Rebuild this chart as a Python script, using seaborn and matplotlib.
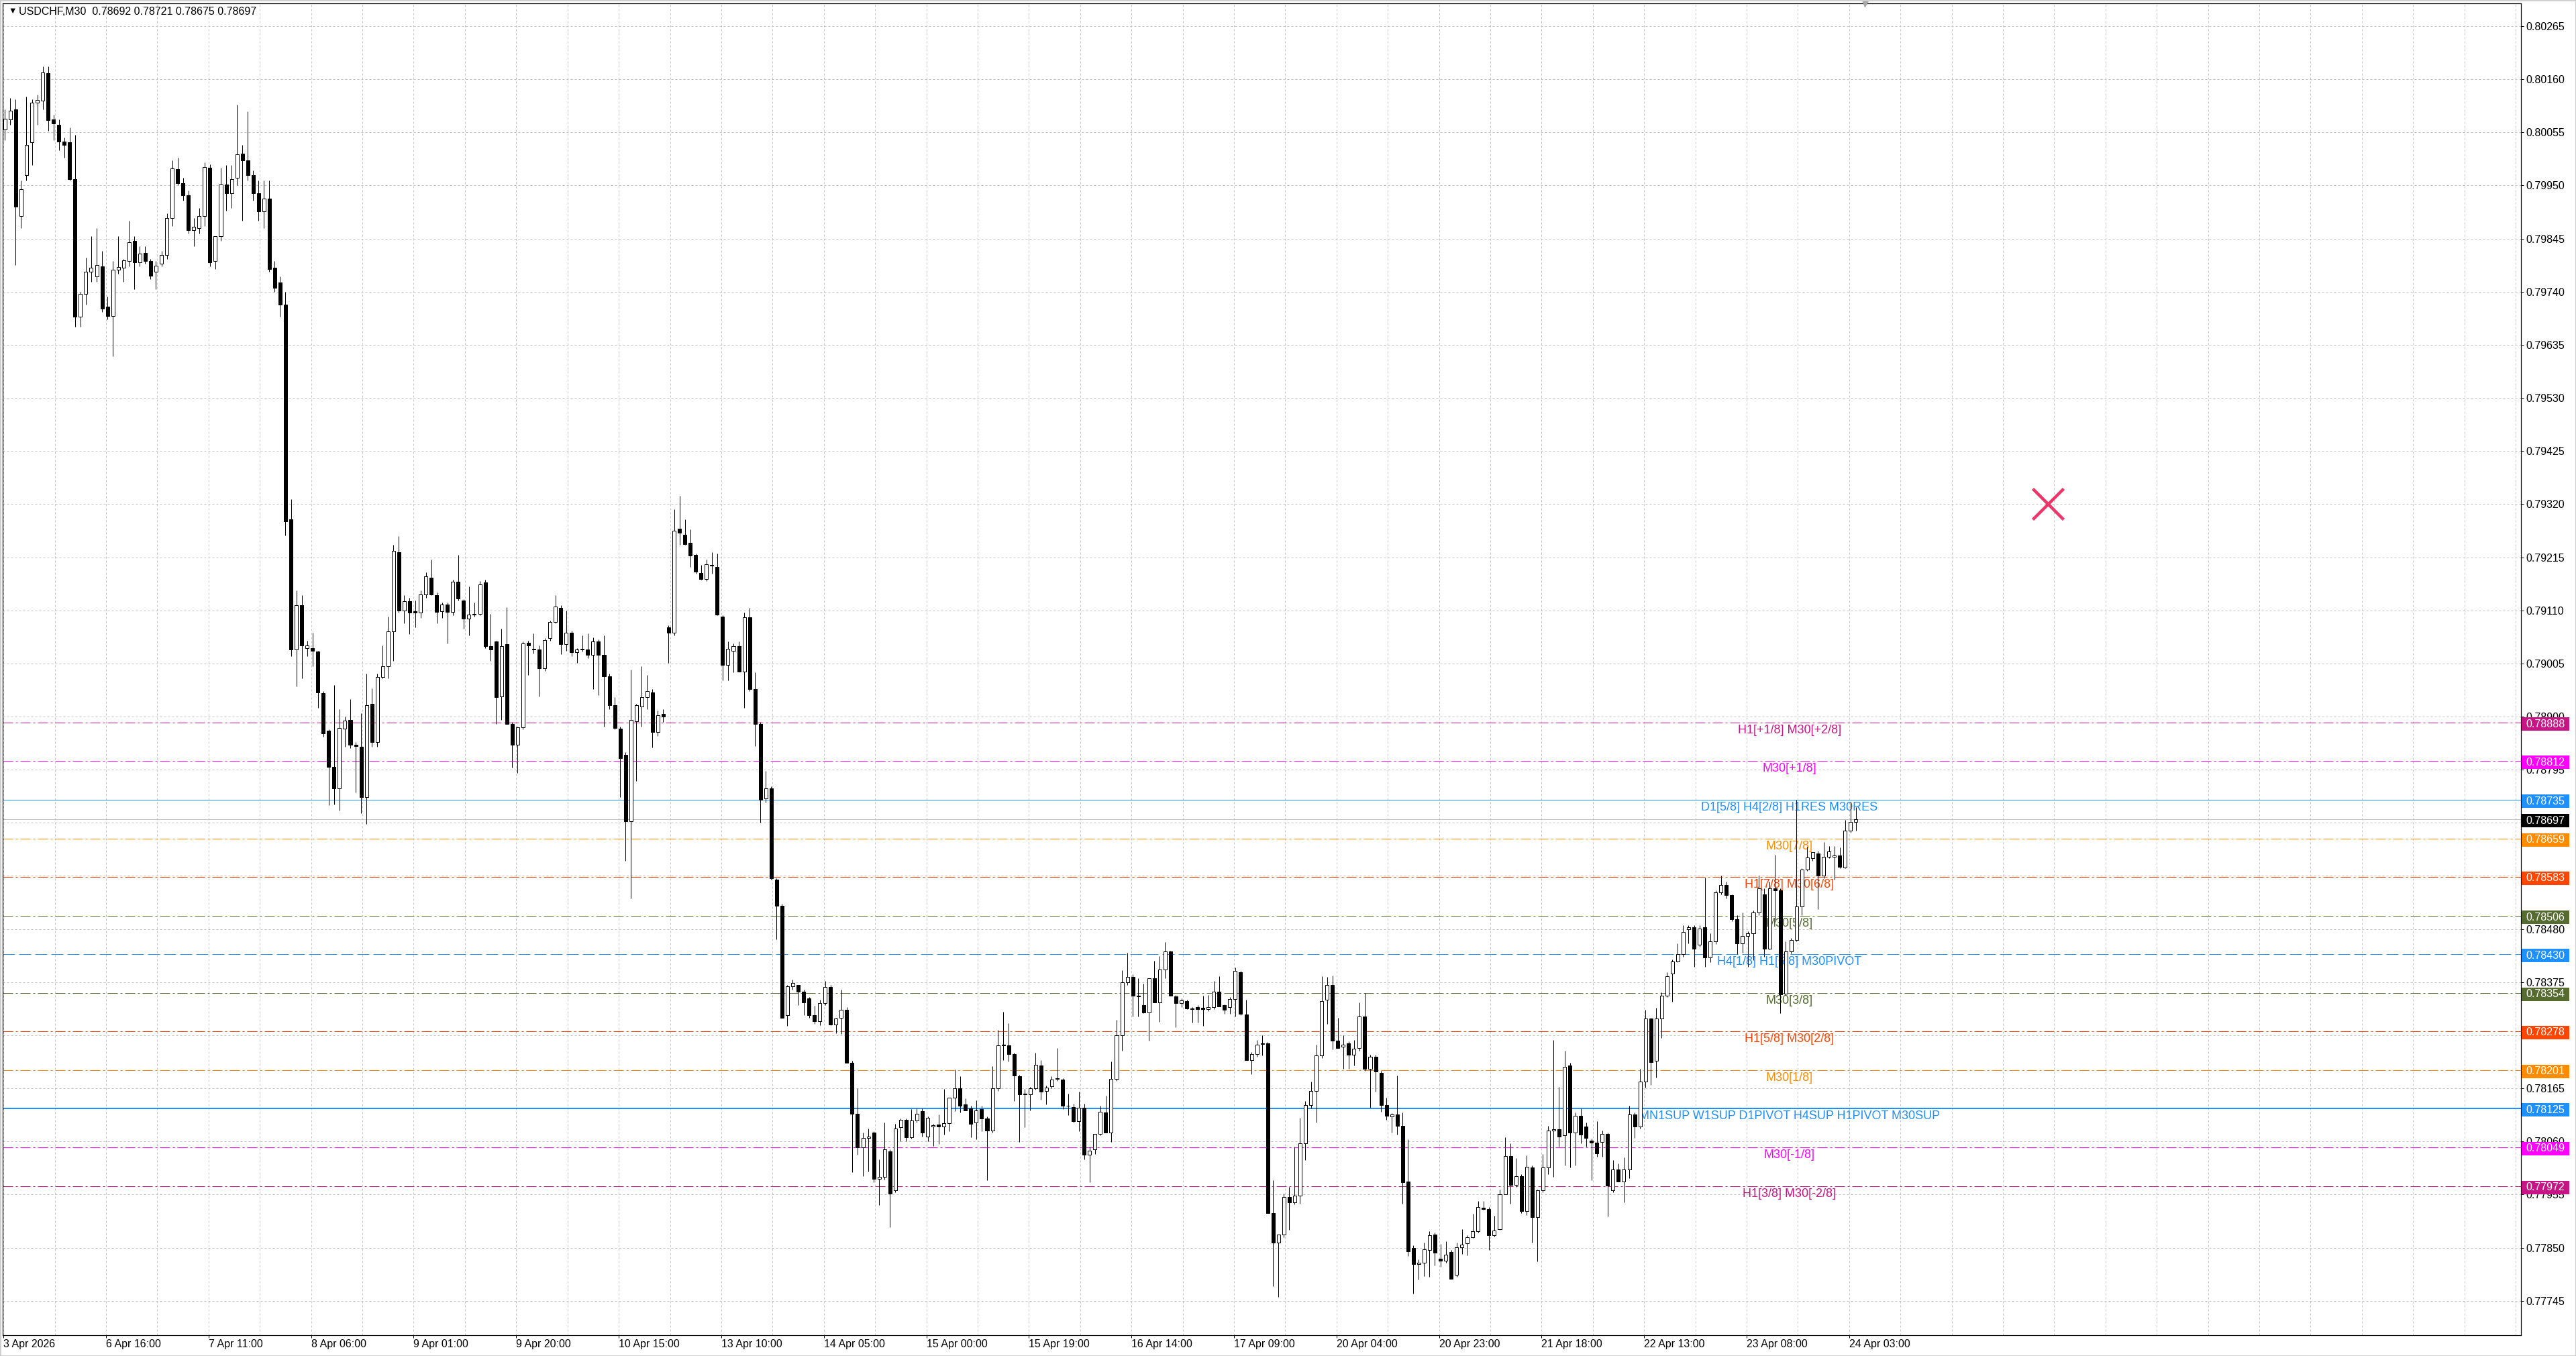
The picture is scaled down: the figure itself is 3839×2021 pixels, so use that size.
import numpy as np
import pandas as pd
import seaborn as sns
import matplotlib.pyplot as plt
import matplotlib.transforms as mtransforms
from matplotlib.patches import Rectangle

# USDCHF M30 chart, read off the screenshot and grouped into 1-hour candles
# (two M30 bars each), starting 3 Apr 21:00; the last entry is the live M30 bar.
candle_open = [
    0.80060, 0.80080, 0.80100, 0.79890, 0.79970, 0.80035, 0.80114, 0.80118, 0.80172, 0.80080,
    0.80070, 0.80037, 0.80035, 0.79963, 0.79690, 0.79736, 0.79780, 0.79770, 0.79790, 0.79710,
    0.79692, 0.79783, 0.79788, 0.79800, 0.79840, 0.79798, 0.79817, 0.79800, 0.79780, 0.79795,
    0.79812, 0.79885, 0.79982, 0.79955, 0.79930, 0.79861, 0.79866, 0.79890, 0.79985, 0.79800,
    0.79850, 0.79952, 0.79935, 0.79965, 0.80013, 0.80000, 0.79970, 0.79934, 0.79899, 0.79924,
    0.79787, 0.79758, 0.79714, 0.79290, 0.79033, 0.79120, 0.79035, 0.79035, 0.79028, 0.78947,
    0.78872, 0.78800, 0.78758, 0.78876, 0.78893, 0.78844, 0.78840, 0.78741, 0.78925, 0.78849,
    0.78978, 0.79000, 0.79068, 0.79225, 0.79110, 0.79128, 0.79108, 0.79106, 0.79142, 0.79175,
    0.79140, 0.79108, 0.79122, 0.79107, 0.79167, 0.79130, 0.79093, 0.79101, 0.79103, 0.79165,
    0.79039, 0.79048, 0.78940, 0.79043, 0.78886, 0.78844, 0.78879, 0.79046, 0.79034, 0.79033,
    0.78996, 0.79055, 0.79087, 0.79115, 0.79043, 0.79066, 0.79027, 0.79033, 0.79033, 0.79022,
    0.79049, 0.79022, 0.78980, 0.78922, 0.78876, 0.78825, 0.78693, 0.78891, 0.78920, 0.78939,
    0.78948, 0.78869, 0.78905, 0.79077, 0.79066, 0.79272, 0.79260, 0.79244, 0.79220, 0.79184,
    0.79172, 0.79200, 0.79196, 0.79098, 0.79002, 0.79030, 0.79039, 0.78989, 0.79096, 0.78955,
    0.78886, 0.78738, 0.78758, 0.78577, 0.78526, 0.78310, 0.78367, 0.78370, 0.78356, 0.78343,
    0.78310, 0.78298, 0.78334, 0.78365, 0.78291, 0.78305, 0.78320, 0.78215, 0.78115, 0.78048,
    0.78067, 0.78077, 0.77986, 0.77990, 0.78040, 0.77963, 0.78088, 0.78103, 0.78068, 0.78101,
    0.78120, 0.78070, 0.78090, 0.78093, 0.78089, 0.78096, 0.78146, 0.78165, 0.78133, 0.78126,
    0.78097, 0.78124, 0.78106, 0.78081, 0.78165, 0.78250, 0.78250, 0.78233, 0.78189, 0.78153,
    0.78153, 0.78165, 0.78210, 0.78160, 0.78169, 0.78185, 0.78182, 0.78130, 0.78128, 0.78100,
    0.78127, 0.78034, 0.78044, 0.78075, 0.78117, 0.78077, 0.78184, 0.78270, 0.78375, 0.78385,
    0.78348, 0.78330, 0.78315, 0.78383, 0.78335, 0.78400, 0.78436, 0.78347, 0.78333, 0.78338,
    0.78323, 0.78326, 0.78324, 0.78321, 0.78326, 0.78356, 0.78329, 0.78326, 0.78341, 0.78395,
    0.78311, 0.78221, 0.78233, 0.78253, 0.78254, 0.77919, 0.77860, 0.77876, 0.77950, 0.77939,
    0.77953, 0.78056, 0.78132, 0.78160, 0.78230, 0.78340, 0.78370, 0.78259, 0.78247, 0.78254,
    0.78231, 0.78245, 0.78307, 0.78203, 0.78227, 0.78196, 0.78132, 0.78110, 0.78114, 0.78091,
    0.77981, 0.77849, 0.77818, 0.77820, 0.77846, 0.77876, 0.77828, 0.77824, 0.77841, 0.77796,
    0.77851, 0.77859, 0.77871, 0.77882, 0.77929, 0.77927, 0.77875, 0.77887, 0.77956, 0.78031,
    0.77974, 0.77991, 0.77923, 0.78009, 0.77910, 0.77963, 0.78008, 0.78081, 0.78084, 0.78072,
    0.78210, 0.78078, 0.78111, 0.78090, 0.78062, 0.78058, 0.78059, 0.78075,
    0.77963, 0.78005, 0.77981, 0.78005, 0.78114, 0.78089, 0.78178, 0.78303, 0.78220, 0.78303,
    0.78348, 0.78392, 0.78416, 0.78431, 0.78480, 0.78484, 0.78449, 0.78483, 0.78424,
    0.78455, 0.78552, 0.78567, 0.78547, 0.78499, 0.78452, 0.78466, 0.78472, 0.78512, 0.78549,
    0.78441, 0.78560, 0.78557, 0.78352, 0.78436, 0.78458, 0.78524, 0.78597, 0.78620, 0.78630,
    0.78586, 0.78623, 0.78623, 0.78625, 0.78602, 0.78674, 0.78692,
]
candle_high = [
    0.80100, 0.80123, 0.80120, 0.79960, 0.80125, 0.80120, 0.80130, 0.80185, 0.80185, 0.80090,
    0.80080, 0.80045, 0.80065, 0.80050, 0.79740, 0.79807, 0.79850, 0.79866, 0.79820, 0.79730,
    0.79800, 0.79850, 0.79805, 0.79880, 0.79850, 0.79830, 0.79830, 0.79805, 0.79800, 0.79820,
    0.79895, 0.80000, 0.80005, 0.79965, 0.79940, 0.79885, 0.79905, 0.79995, 0.79992, 0.79850,
    0.79985, 0.79990, 0.79990, 0.80110, 0.80030, 0.80097, 0.79980, 0.79960, 0.79960, 0.79960,
    0.79800, 0.79770, 0.79740, 0.79330, 0.79150, 0.79140, 0.79050, 0.79066, 0.79030, 0.78950,
    0.78875, 0.78962, 0.78915, 0.78900, 0.78935, 0.78850, 0.78906, 0.78985, 0.78956, 0.78985,
    0.79040, 0.79098, 0.79240, 0.79257, 0.79140, 0.79135, 0.79130, 0.79150, 0.79185, 0.79211,
    0.79145, 0.79125, 0.79125, 0.79170, 0.79219, 0.79132, 0.79157, 0.79125, 0.79168, 0.79170,
    0.79103, 0.79050, 0.79074, 0.79116, 0.78890, 0.78880, 0.79048, 0.79050, 0.79064, 0.79040,
    0.79055, 0.79090, 0.79140, 0.79120, 0.79110, 0.79070, 0.79035, 0.79060, 0.79064, 0.79056,
    0.79052, 0.79060, 0.78985, 0.78938, 0.78880, 0.78830, 0.78993, 0.78925, 0.79000, 0.78982,
    0.78955, 0.78912, 0.78915, 0.79080, 0.79310, 0.79336, 0.79290, 0.79270, 0.79222, 0.79200,
    0.79210, 0.79225, 0.79222, 0.79100, 0.79048, 0.79045, 0.79048, 0.79106, 0.79115, 0.78987,
    0.78890, 0.78793, 0.78762, 0.78580, 0.78530, 0.78370, 0.78380, 0.78370, 0.78360, 0.78345,
    0.78328, 0.78340, 0.78377, 0.78370, 0.78305, 0.78360, 0.78325, 0.78220, 0.78165, 0.78078,
    0.78085, 0.78080, 0.78025, 0.78098, 0.78045, 0.78095, 0.78105, 0.78105, 0.78124, 0.78126,
    0.78125, 0.78110, 0.78095, 0.78113, 0.78164, 0.78146, 0.78202, 0.78189, 0.78145, 0.78130,
    0.78141, 0.78130, 0.78110, 0.78209, 0.78281, 0.78316, 0.78294, 0.78236, 0.78192, 0.78164,
    0.78168, 0.78235, 0.78221, 0.78170, 0.78189, 0.78245, 0.78185, 0.78155, 0.78134, 0.78159,
    0.78135, 0.78050, 0.78075, 0.78130, 0.78150, 0.78218, 0.78300, 0.78398, 0.78433, 0.78390,
    0.78383, 0.78372, 0.78383, 0.78417, 0.78427, 0.78454, 0.78437, 0.78350, 0.78343, 0.78340,
    0.78325, 0.78330, 0.78348, 0.78350, 0.78378, 0.78387, 0.78331, 0.78345, 0.78404, 0.78397,
    0.78340, 0.78237, 0.78261, 0.78270, 0.78256, 0.77984, 0.77876, 0.77957, 0.77970, 0.78050,
    0.78107, 0.78140, 0.78178, 0.78252, 0.78386, 0.78385, 0.78388, 0.78304, 0.78270, 0.78258,
    0.78261, 0.78335, 0.78353, 0.78231, 0.78231, 0.78200, 0.78147, 0.78116, 0.78190, 0.78117,
    0.78064, 0.77855, 0.77827, 0.77860, 0.77882, 0.77880, 0.77857, 0.77863, 0.77845, 0.77860,
    0.77887, 0.77875, 0.77917, 0.77942, 0.77942, 0.77930, 0.77913, 0.77965, 0.78068, 0.78056,
    0.78027, 0.77995, 0.78032, 0.78012, 0.77965, 0.78035, 0.78091, 0.78261, 0.78168, 0.78239,
    0.78215, 0.78118, 0.78125, 0.78098, 0.78065, 0.78100, 0.78081, 0.78078,
    0.78023, 0.78017, 0.78029, 0.78130, 0.78118, 0.78204, 0.78320, 0.78305, 0.78324, 0.78355,
    0.78394, 0.78420, 0.78452, 0.78488, 0.78488, 0.78488, 0.78487, 0.78582, 0.78472,
    0.78557, 0.78585, 0.78574, 0.78548, 0.78507, 0.78513, 0.78475, 0.78516, 0.78585, 0.78560,
    0.78574, 0.78627, 0.78560, 0.78455, 0.78462, 0.78735, 0.78600, 0.78642, 0.78632, 0.78635,
    0.78652, 0.78644, 0.78644, 0.78641, 0.78696, 0.78732, 0.78721,
]
candle_low = [
    0.80040, 0.80070, 0.79793, 0.79865, 0.79960, 0.79990, 0.80070, 0.80100, 0.80058, 0.80040,
    0.80020, 0.80005, 0.79960, 0.79670, 0.79670, 0.79715, 0.79760, 0.79760, 0.79700, 0.79685,
    0.79612, 0.79775, 0.79760, 0.79790, 0.79745, 0.79790, 0.79795, 0.79765, 0.79745, 0.79790,
    0.79805, 0.79870, 0.79950, 0.79920, 0.79855, 0.79830, 0.79855, 0.79870, 0.79790, 0.79785,
    0.79840, 0.79900, 0.79905, 0.79950, 0.79880, 0.79960, 0.79920, 0.79880, 0.79865, 0.79780,
    0.79740, 0.79690, 0.79258, 0.79020, 0.78960, 0.78975, 0.79020, 0.79000, 0.78917, 0.78860,
    0.78725, 0.78726, 0.78714, 0.78840, 0.78838, 0.78750, 0.78709, 0.78688, 0.78840, 0.78840,
    0.78975, 0.78975, 0.79010, 0.79105, 0.79085, 0.79063, 0.79077, 0.79095, 0.79135, 0.79140,
    0.79085, 0.79095, 0.79045, 0.79100, 0.79130, 0.79074, 0.79060, 0.79098, 0.79100, 0.79035,
    0.79010, 0.78885, 0.78893, 0.78886, 0.78799, 0.78788, 0.78875, 0.78982, 0.79025, 0.78940,
    0.78990, 0.79050, 0.79085, 0.79024, 0.79030, 0.79020, 0.79006, 0.79028, 0.79015, 0.78955,
    0.78943, 0.78880, 0.78915, 0.78875, 0.78741, 0.78615, 0.78541, 0.78772, 0.78880, 0.78915,
    0.78839, 0.78862, 0.78890, 0.79006, 0.79060, 0.79239, 0.79240, 0.79196, 0.79182, 0.79170,
    0.79168, 0.79182, 0.79100, 0.78972, 0.78972, 0.78987, 0.78989, 0.78917, 0.78950, 0.78841,
    0.78691, 0.78730, 0.78578, 0.78460, 0.78305, 0.78288, 0.78360, 0.78330, 0.78310, 0.78305,
    0.78293, 0.78290, 0.78330, 0.78290, 0.78274, 0.78273, 0.78215, 0.77999, 0.78034, 0.77991,
    0.78000, 0.77980, 0.77934, 0.77985, 0.77891, 0.77960, 0.78060, 0.78060, 0.78065, 0.78098,
    0.78070, 0.78060, 0.78051, 0.78055, 0.78073, 0.78080, 0.78120, 0.78118, 0.78122, 0.78068,
    0.78064, 0.78080, 0.77984, 0.78078, 0.78160, 0.78221, 0.78218, 0.78140, 0.78059, 0.78088,
    0.78122, 0.78162, 0.78142, 0.78133, 0.78165, 0.78180, 0.78124, 0.78112, 0.78098, 0.78080,
    0.78025, 0.77979, 0.78035, 0.78072, 0.78077, 0.78059, 0.78180, 0.78240, 0.78370, 0.78307,
    0.78307, 0.78314, 0.78259, 0.78335, 0.78296, 0.78383, 0.78348, 0.78286, 0.78325, 0.78322,
    0.78295, 0.78295, 0.78288, 0.78318, 0.78322, 0.78327, 0.78312, 0.78312, 0.78307, 0.78310,
    0.78221, 0.78193, 0.78228, 0.78230, 0.77919, 0.77774, 0.77752, 0.77870, 0.77885, 0.77935,
    0.77937, 0.78023, 0.78125, 0.78097, 0.78225, 0.78293, 0.78242, 0.78245, 0.78203, 0.78204,
    0.78210, 0.78240, 0.78200, 0.78127, 0.78159, 0.78119, 0.78103, 0.78078, 0.78074, 0.77937,
    0.77833, 0.77759, 0.77787, 0.77794, 0.77792, 0.77815, 0.77812, 0.77820, 0.77788, 0.77792,
    0.77837, 0.77835, 0.77869, 0.77880, 0.77925, 0.77845, 0.77872, 0.77885, 0.77955, 0.77937,
    0.77970, 0.77918, 0.77914, 0.77860, 0.77823, 0.77960, 0.77996, 0.77990, 0.78050, 0.78012,
    0.78009, 0.78012, 0.78056, 0.78050, 0.77984, 0.78030, 0.78030, 0.77912,
    0.77960, 0.77981, 0.77940, 0.77987, 0.78067, 0.78085, 0.78167, 0.78172, 0.78187, 0.78264,
    0.78345, 0.78336, 0.78414, 0.78425, 0.78452, 0.78405, 0.78445, 0.78405, 0.78414,
    0.78450, 0.78548, 0.78540, 0.78496, 0.78431, 0.78433, 0.78405, 0.78419, 0.78508, 0.78425,
    0.78440, 0.78494, 0.78314, 0.78350, 0.78432, 0.78455, 0.78508, 0.78595, 0.78615, 0.78519,
    0.78580, 0.78620, 0.78578, 0.78600, 0.78600, 0.78670, 0.78675,
]
candle_close = [
    0.80082, 0.80098, 0.79908, 0.79943, 0.80030, 0.80114, 0.80119, 0.80174, 0.80079, 0.80073,
    0.80037, 0.80030, 0.79963, 0.79691, 0.79736, 0.79780, 0.79787, 0.79793, 0.79706, 0.79692,
    0.79783, 0.79789, 0.79802, 0.79838, 0.79798, 0.79815, 0.79800, 0.79772, 0.79792, 0.79812,
    0.79885, 0.79984, 0.79954, 0.79930, 0.79861, 0.79868, 0.79890, 0.79986, 0.79798, 0.79850,
    0.79952, 0.79935, 0.79963, 0.80012, 0.80000, 0.79970, 0.79934, 0.79899, 0.79924, 0.79785,
    0.79748, 0.79714, 0.79286, 0.79033, 0.79120, 0.79040, 0.79040, 0.79030, 0.78948, 0.78867,
    0.78800, 0.78758, 0.78877, 0.78892, 0.78844, 0.78841, 0.78741, 0.78922, 0.78849, 0.78978,
    0.79000, 0.79068, 0.79228, 0.79110, 0.79128, 0.79105, 0.79106, 0.79142, 0.79177, 0.79142,
    0.79107, 0.79122, 0.79107, 0.79167, 0.79133, 0.79093, 0.79101, 0.79103, 0.79161, 0.79039,
    0.79032, 0.78939, 0.79039, 0.78886, 0.78844, 0.78879, 0.79044, 0.79040, 0.79033, 0.78996,
    0.79051, 0.79087, 0.79117, 0.79043, 0.79066, 0.79027, 0.79033, 0.79033, 0.79022, 0.79049,
    0.79022, 0.78980, 0.78922, 0.78877, 0.78818, 0.78693, 0.78893, 0.78923, 0.78939, 0.78950,
    0.78869, 0.78903, 0.78900, 0.79066, 0.79268, 0.79263, 0.79241, 0.79218, 0.79187, 0.79172,
    0.79201, 0.79199, 0.79101, 0.79002, 0.79034, 0.79039, 0.78989, 0.79096, 0.78955, 0.78886,
    0.78735, 0.78758, 0.78580, 0.78526, 0.78305, 0.78367, 0.78374, 0.78356, 0.78335, 0.78310,
    0.78298, 0.78334, 0.78365, 0.78291, 0.78303, 0.78320, 0.78215, 0.78115, 0.78048, 0.78067,
    0.78070, 0.77986, 0.77990, 0.78045, 0.77957, 0.78086, 0.78103, 0.78068, 0.78101, 0.78115,
    0.78077, 0.78107, 0.78092, 0.78089, 0.78096, 0.78146, 0.78165, 0.78131, 0.78122, 0.78095,
    0.78122, 0.78105, 0.78081, 0.78165, 0.78250, 0.78250, 0.78233, 0.78190, 0.78153, 0.78153,
    0.78165, 0.78211, 0.78159, 0.78166, 0.78183, 0.78184, 0.78130, 0.78130, 0.78100, 0.78127,
    0.78034, 0.78042, 0.78075, 0.78119, 0.78077, 0.78184, 0.78270, 0.78375, 0.78385, 0.78348,
    0.78347, 0.78315, 0.78383, 0.78335, 0.78400, 0.78436, 0.78348, 0.78333, 0.78339, 0.78323,
    0.78321, 0.78322, 0.78321, 0.78326, 0.78356, 0.78327, 0.78320, 0.78341, 0.78397, 0.78312,
    0.78221, 0.78233, 0.78252, 0.78254, 0.77919, 0.77860, 0.77876, 0.77950, 0.77939, 0.77953,
    0.78056, 0.78132, 0.78160, 0.78230, 0.78337, 0.78370, 0.78259, 0.78245, 0.78252, 0.78231,
    0.78244, 0.78307, 0.78204, 0.78227, 0.78198, 0.78132, 0.78111, 0.78114, 0.78091, 0.77980,
    0.77843, 0.77817, 0.77820, 0.77847, 0.77875, 0.77840, 0.77824, 0.77836, 0.77788, 0.77851,
    0.77856, 0.77871, 0.77882, 0.77930, 0.77927, 0.77875, 0.77884, 0.77956, 0.78031, 0.77974,
    0.77991, 0.77923, 0.78010, 0.77910, 0.77963, 0.78008, 0.78081, 0.78084, 0.78070, 0.78208,
    0.78078, 0.78111, 0.78073, 0.78067, 0.78058, 0.78037, 0.78075, 0.77973,
    0.78005, 0.77981, 0.78005, 0.78114, 0.78089, 0.78178, 0.78303, 0.78217, 0.78303, 0.78348,
    0.78386, 0.78416, 0.78431, 0.78474, 0.78484, 0.78441, 0.78481, 0.78424, 0.78455,
    0.78552, 0.78567, 0.78547, 0.78499, 0.78452, 0.78466, 0.78472, 0.78512, 0.78560, 0.78441,
    0.78560, 0.78557, 0.78351, 0.78436, 0.78458, 0.78524, 0.78597, 0.78621, 0.78632, 0.78586,
    0.78623, 0.78634, 0.78625, 0.78603, 0.78674, 0.78692, 0.78697,
]

# horizontal level lines drawn by the indicator
level_prices = [0.78888, 0.78812, 0.78735, 0.78659, 0.78583, 0.78506, 0.78430,
                0.78354, 0.78278, 0.78201, 0.78125, 0.78049, 0.77972]
level_names = ["H1[+1/8] M30[+2/8]", "M30[+1/8]", "D1[5/8] H4[2/8] H1RES M30RES",
               "M30[7/8]", "H1[7/8] M30[6/8]", "M30[5/8]", "H4[1/8] H1[6/8] M30PIVOT",
               "M30[3/8]", "H1[5/8] M30[2/8]", "M30[1/8]",
               "MN1SUP W1SUP D1PIVOT H4SUP H1PIVOT M30SUP", "M30[-1/8]", "H1[3/8] M30[-2/8]"]
level_colors = ["#C71585", "#FF00FF", "#1E90FF", "#FF8C00", "#FF4500", "#556B2F", "#1E90FF",
                "#556B2F", "#FF4500", "#FF8C00", "#1E90FF", "#FF00FF", "#C71585"]
level_styles = ["dashdot", "dashdot", "solid", "dashdot", "dashdot", "dashdot", "dash",
                "dashdot", "dashdot", "dashdot", "solid", "dashdot", "dashdot"]
level_widths = [1, 1, 1, 1, 1, 1, 1, 1, 1, 1, 2, 1, 1]

bid_price = 0.78697
price_ticks = [0.80265, 0.80160, 0.80055, 0.79950, 0.79845, 0.79740, 0.79635, 0.79530,
               0.79425, 0.79320, 0.79215, 0.79110, 0.79005, 0.78900, 0.78795, 0.78690,
               0.78585, 0.78480, 0.78375, 0.78270, 0.78165, 0.78060, 0.77955, 0.77850, 0.77745]
time_labels = ["3 Apr 2026", "6 Apr 16:00", "7 Apr 11:00", "8 Apr 06:00", "9 Apr 01:00",
               "9 Apr 20:00", "10 Apr 15:00", "13 Apr 10:00", "14 Apr 05:00", "15 Apr 00:00",
               "15 Apr 19:00", "16 Apr 14:00", "17 Apr 09:00", "20 Apr 04:00", "20 Apr 23:00",
               "21 Apr 18:00", "22 Apr 13:00", "23 Apr 08:00", "24 Apr 03:00"]
header = "USDCHF,M30  0.78692 0.78721 0.78675 0.78697"

sns.set_theme(style="white")
plt.rcParams['font.family'] = ['Liberation Sans', 'DejaVu Sans']
plt.rcParams['lines.scale_dashes'] = False

PX = 0.72          # points per pixel at dpi 100
FS = 11.5          # MT4 axis font, ~16 px
FS_LEVEL = 13      # level captions are a touch larger
W, H = 3839, 2021

fig = plt.figure(figsize=(W / 100, H / 100), dpi=100)
fig.patch.set_facecolor('white')
ax = fig.add_axes([4 / W, 1 - 1990 / H, 3753 / W, 1985 / H])
ax.set_facecolor('white')

# x is counted in M30 bars; each hourly candle spans two of them
X_LEFT, X_RIGHT = -0.32, 933.0
Y_LOW, Y_HIGH = 0.77677, 0.80310
ax.set_xlim(X_LEFT, X_RIGHT)
ax.set_ylim(Y_LOW, Y_HIGH)
ypx = (Y_HIGH - Y_LOW) / 1985.0     # price per pixel

grid_kw = dict(color='#C4C4C4', lw=PX, linestyles=(0, (3 * PX, 3 * PX)), zorder=0)
ax.vlines(np.arange(0, X_RIGHT, 19), Y_LOW, Y_HIGH, **grid_kw)
ax.hlines(price_ticks, X_LEFT, X_RIGHT, **grid_kw)

blend = mtransforms.blended_transform_factory(ax.transAxes, ax.transData)

# level lines and their captions
dash_map = {"dashdot": (0, (15 * PX, 4 * PX, 3 * PX, 4 * PX)),
            "dash": (0, (18 * PX, 6 * PX)),
            "solid": "-"}
for price, name, col, sty, lw in zip(level_prices, level_names, level_colors,
                                     level_styles, level_widths):
    ax.axhline(price, color=col, lw=lw * PX, ls=dash_map[sty], zorder=1)
    ax.annotate(name, xy=(0.7095, price), xycoords=blend, xytext=(0, -3 * PX),
                textcoords='offset points', ha='center', va='top', color=col,
                fontsize=FS_LEVEL, zorder=2)
ax.axhline(bid_price, color='#C0C0C0', lw=PX, zorder=1)

# candles
df = pd.DataFrame({'open': candle_open, 'high': candle_high,
                   'low': candle_low, 'close': candle_close})
df['x'] = np.arange(len(df)) * 2 + 0.5
rising = df['close'] >= df['open']
body_bottom = np.minimum(df['open'], df['close'])
body_height = np.maximum((df['close'] - df['open']).abs(), 0.000012)
ax.vlines(df['x'], df['low'], df['high'], color='black', lw=PX, zorder=4)
ax.bar(df['x'], body_height, bottom=body_bottom, width=1.25,
       color=np.where(rising, 'white', 'black'), edgecolor='black',
       linewidth=PX, zorder=5)

# price scale on the right
ax.yaxis.tick_right()
ax.set_yticks(price_ticks)
ax.set_yticklabels([f"{p:.5f}" for p in price_ticks])
ax.tick_params(axis='y', length=4 * PX, width=PX, pad=3 * PX, labelsize=FS,
               direction='out', colors='black', right=True, left=False)

# time scale
ax.set_xticks(np.arange(len(time_labels)) * 38)
ax.set_xticklabels(time_labels, ha='left')
ax.tick_params(axis='x', length=4 * PX, width=PX, pad=2 * PX, labelsize=FS,
               direction='out', colors='black', bottom=True)
ax.set_xlabel('')
ax.set_ylabel('')

for sp in ax.spines.values():
    sp.set_visible(True)
    sp.set_color('black')
    sp.set_linewidth(1.2 * PX)

# coloured price boxes on the axis
box_w = 71 / 3753
box_h = 20 * ypx
box_x = 1.00027
for price, col in zip(level_prices + [bid_price], level_colors + ['black']):
    yc = price - 2 * ypx
    ax.add_patch(Rectangle((box_x, yc - box_h / 2), box_w, box_h, transform=blend,
                           facecolor=col, edgecolor='none', clip_on=False, zorder=6))
    ax.text(box_x + box_w / 2, yc, f"{price:.5f}", transform=blend, ha='center',
            va='center', color='white', fontsize=FS, clip_on=False, zorder=7)

# header, chart-shift marker and the red cross object
fig.text(12 / W, 1 - 17 / H, "\u25BC", fontsize=9, va='center', ha='left', color='black')
fig.text(28 / W, 1 - 17 / H, header, fontsize=FS, va='center', ha='left', color='black')
ax.plot([0.7394], [1.0], marker='v', ms=9 * PX, color='#A8A8A8', transform=ax.transAxes,
        clip_on=False, zorder=8)
ax.plot([0.8121], [0.79320], marker='x', ms=47 * PX, mew=4.5 * PX, color='#EE3468',
        transform=blend, zorder=8)

fig.patches.append(Rectangle((0, 0), 1, 1, transform=fig.transFigure, fill=False,
                             edgecolor='#D0D0D0', linewidth=3 * PX))

fig.savefig('out.png', dpi=100, facecolor='white')
